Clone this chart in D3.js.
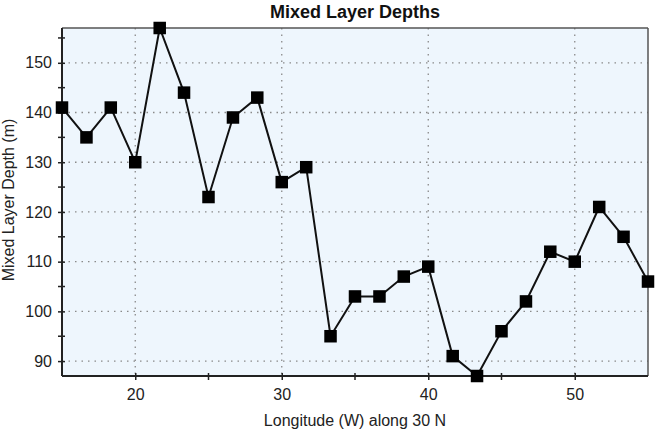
<!DOCTYPE html>
<html>
<head>
<meta charset="utf-8">
<script src="https://cdn.jsdelivr.net/npm/d3@7"></script>
<style>
  body { margin: 0; background: #fff; }
  svg { display: block; font-family: Arial, "Liberation Sans", Helvetica, sans-serif; }
</style>
</head>
<body>
<div id="chart"></div>
<script>
// longitude (W) along 30 N
const longitudes = [15, 16.67, 18.33, 20, 21.67, 23.33, 25, 26.67, 28.33, 30, 31.67, 33.33, 35,
  36.67, 38.33, 40, 41.67, 43.33, 45, 46.67, 48.33, 50, 51.67, 53.33, 55];
// mixed layer depth (m)
const depths = [141, 135, 141, 130, 157, 144, 123, 139, 143, 126, 129, 95, 103,
  103, 107, 109, 91, 87, 96, 102, 112, 110, 121, 115, 106];
const xTicks = [20, 30, 40, 50];
const xMinor = [25, 35, 45];
const yTicks = [90, 100, 110, 120, 130, 140, 150];
const yMinor = [95, 105, 115, 125, 135, 145, 155];

const data = longitudes.map((lon, i) => ({ lon, depth: depths[i] }));

const W = 655, H = 432;
const margin = { top: 28, right: 7, bottom: 56, left: 62 };
const width = W - margin.left - margin.right;
const height = H - margin.top - margin.bottom;

const svg = d3.select('#chart').append('svg').attr('width', W).attr('height', H);

const x = d3.scaleLinear().domain([15, 55]).range([0, width]);
const y = d3.scaleLinear().domain([87, 157]).range([height, 0]);

const g = svg.append('g').attr('transform', `translate(${margin.left},${margin.top})`);

// plot background
g.append('rect')
  .attr('width', width)
  .attr('height', height)
  .attr('fill', '#eef6fd');

// dotted grid
g.selectAll('.gx').data(xTicks).enter().append('line')
  .attr('x1', d => x(d)).attr('x2', d => x(d))
  .attr('y1', 0).attr('y2', height)
  .attr('stroke', '#8a8a8a').attr('stroke-width', 1.3)
  .attr('stroke-dasharray', '1.5,5');
g.selectAll('.gy').data(yTicks).enter().append('line')
  .attr('y1', d => y(d)).attr('y2', d => y(d))
  .attr('x1', 0).attr('x2', width)
  .attr('stroke', '#8a8a8a').attr('stroke-width', 1.3)
  .attr('stroke-dasharray', '1.5,5');

// top and right frame
g.append('line').attr('x1', 0).attr('x2', width).attr('y1', 0).attr('y2', 0)
  .attr('stroke', '#555').attr('stroke-width', 1.5);
g.append('line').attr('x1', width).attr('x2', width).attr('y1', 0).attr('y2', height)
  .attr('stroke', '#555').attr('stroke-width', 1.5);

// axes with ticks crossing the axis line
const xAxis = g.append('g')
  .attr('transform', `translate(0,${height})`)
  .call(d3.axisBottom(x).tickValues(xTicks).tickSize(4).tickPadding(9));
xAxis.append('g').selectAll('line').data(xMinor).enter().append('line')
  .attr('x1', d => x(d)).attr('x2', d => x(d)).attr('y1', -3).attr('y2', 4);
xAxis.selectAll('.tick line').attr('y1', -3);

const yAxis = g.append('g')
  .call(d3.axisLeft(y).tickValues(yTicks).tickSize(4).tickPadding(6));
yAxis.append('g').selectAll('line').data(yMinor).enter().append('line')
  .attr('y1', d => y(d)).attr('y2', d => y(d)).attr('x1', -4).attr('x2', 3);
yAxis.selectAll('.tick line').attr('x1', 3);

[xAxis, yAxis].forEach(a => {
  a.select('.domain').attr('stroke', '#222').attr('stroke-width', 2);
  a.selectAll('line').attr('stroke', '#222').attr('stroke-width', 1.5);
  a.selectAll('text').attr('font-size', 16).attr('fill', '#222')
    .attr('font-family', 'Arial, "Liberation Sans", sans-serif');
});
xAxis.select('.domain').attr('d', `M0,0H${width}`);
yAxis.select('.domain').attr('d', `M0,${height}V0`);

// series line and markers
const line = d3.line().x(d => x(d.lon)).y(d => y(d.depth));
g.append('path')
  .datum(data)
  .attr('d', line)
  .attr('fill', 'none')
  .attr('stroke', '#111')
  .attr('stroke-width', 2);

const ms = 12.5;
g.selectAll('.pt').data(data).enter().append('rect')
  .attr('x', d => x(d.lon) - ms / 2)
  .attr('y', d => y(d.depth) - ms / 2)
  .attr('width', ms)
  .attr('height', ms)
  .attr('fill', '#000');

// titles
svg.append('text')
  .attr('x', margin.left + width / 2)
  .attr('y', 18)
  .attr('text-anchor', 'middle')
  .attr('font-size', 18)
  .attr('font-weight', 'bold')
  .attr('fill', '#111')
  .text('Mixed Layer Depths');

svg.append('text')
  .attr('x', margin.left + width / 2)
  .attr('y', 426)
  .attr('text-anchor', 'middle')
  .attr('font-size', 16)
  .attr('fill', '#222')
  .text('Longitude (W) along 30 N');

svg.append('text')
  .attr('transform', `translate(14,${margin.top + height / 2 - 2}) rotate(-90)`)
  .attr('text-anchor', 'middle')
  .attr('font-size', 16)
  .attr('fill', '#222')
  .text('Mixed Layer Depth (m)');
</script>
</body>
</html>
